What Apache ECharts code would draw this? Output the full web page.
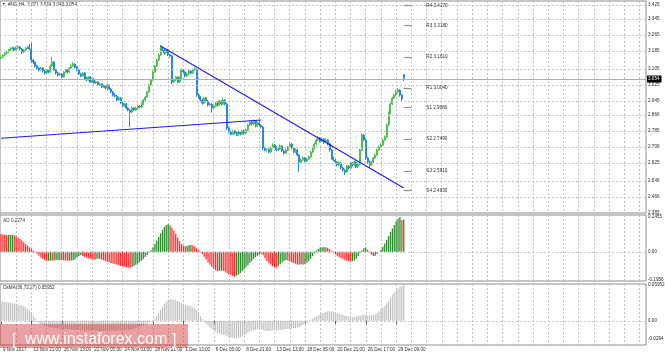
<!DOCTYPE html>
<html><head><meta charset="utf-8">
<script src="https://cdn.jsdelivr.net/npm/echarts@6/dist/echarts.min.js"></script>
<style>html,body{margin:0;padding:0;background:#fff}#c{width:665px;height:357px}</style>
</head><body><div id="c"></div>
<script>
// ---------- data ----------
const opens = [3.155,3.160,3.170,3.180,3.185,3.195,3.200,3.205,3.195,3.205,
3.210,3.200,3.185,3.195,3.205,3.210,3.200,3.145,3.135,3.115,
3.105,3.095,3.105,3.090,3.080,3.095,3.085,3.115,3.135,3.095,
3.080,3.070,3.075,3.060,3.085,3.095,3.085,3.105,3.115,3.125,
3.110,3.095,3.075,3.065,3.080,3.055,3.045,3.060,3.035,3.050,
3.030,3.035,3.020,3.025,3.010,3.015,3.005,3.020,3.000,2.985,
2.970,2.965,2.945,2.955,2.930,2.915,2.925,2.905,2.895,2.885,
2.905,2.895,2.905,2.915,2.910,2.925,2.945,2.960,2.985,3.020,
3.045,3.085,3.115,3.145,3.170,3.205,3.195,3.180,3.195,3.170,
3.165,3.035,3.045,3.060,3.035,3.055,3.095,3.085,3.065,3.075,
3.090,3.080,3.095,3.100,2.970,2.960,2.945,2.930,2.955,2.940,
2.920,2.925,2.905,2.915,2.930,2.920,2.940,2.925,2.945,2.925,
2.805,2.785,2.775,2.790,2.780,2.770,2.785,2.775,2.790,2.780,
2.795,2.820,2.835,2.825,2.840,2.815,2.830,2.820,2.810,2.705,
2.695,2.698,2.685,2.705,2.720,2.710,2.695,2.700,2.715,2.690,
2.680,2.695,2.710,2.725,2.705,2.685,2.695,2.670,2.635,2.645,
2.655,2.640,2.650,2.660,2.685,2.705,2.725,2.745,2.755,2.740,
2.750,2.735,2.745,2.725,2.695,2.655,2.645,2.635,2.620,2.630,
2.605,2.595,2.585,2.615,2.605,2.630,2.620,2.635,2.610,2.625,
2.695,2.770,2.745,2.655,2.635,2.620,2.635,2.655,2.670,2.695,
2.710,2.720,2.745,2.760,2.820,2.880,2.925,2.955,2.970,2.985,
2.995,2.970,3.071];
const closes = [3.160,3.170,3.180,3.185,3.195,3.200,3.205,3.195,3.205,3.210,
3.200,3.185,3.195,3.205,3.210,3.200,3.145,3.135,3.115,3.105,
3.095,3.105,3.090,3.080,3.095,3.085,3.115,3.135,3.095,3.080,
3.070,3.075,3.060,3.085,3.095,3.085,3.105,3.115,3.125,3.110,
3.095,3.075,3.065,3.080,3.055,3.045,3.060,3.035,3.050,3.030,
3.035,3.020,3.025,3.010,3.015,3.005,3.020,3.000,2.985,2.970,
2.965,2.945,2.955,2.930,2.915,2.925,2.905,2.895,2.885,2.905,
2.895,2.905,2.915,2.910,2.925,2.945,2.960,2.985,3.020,3.045,
3.085,3.115,3.145,3.170,3.205,3.195,3.180,3.195,3.170,3.165,
3.035,3.045,3.060,3.035,3.055,3.095,3.085,3.065,3.075,3.090,
3.080,3.095,3.100,2.970,2.960,2.945,2.930,2.955,2.940,2.920,
2.925,2.905,2.915,2.930,2.920,2.940,2.925,2.945,2.925,2.805,
2.785,2.775,2.790,2.780,2.770,2.785,2.775,2.790,2.780,2.795,
2.820,2.835,2.825,2.840,2.815,2.830,2.820,2.810,2.705,2.695,
2.698,2.685,2.705,2.720,2.710,2.695,2.700,2.715,2.690,2.680,
2.695,2.710,2.725,2.705,2.685,2.695,2.670,2.635,2.645,2.655,
2.640,2.650,2.660,2.685,2.705,2.725,2.745,2.755,2.740,2.750,
2.735,2.745,2.725,2.695,2.655,2.645,2.635,2.620,2.630,2.605,
2.595,2.585,2.615,2.605,2.630,2.620,2.635,2.610,2.625,2.695,
2.770,2.745,2.655,2.635,2.620,2.635,2.655,2.670,2.695,2.710,
2.720,2.745,2.760,2.820,2.880,2.925,2.955,2.970,2.985,2.995,
2.970,2.950,3.054];
const highs = [3.168,3.175,3.188,3.192,3.200,3.208,3.212,3.210,3.212,3.218,
3.215,3.205,3.200,3.212,3.218,3.225,3.230,3.150,3.140,3.122,
3.110,3.112,3.110,3.095,3.100,3.100,3.122,3.160,3.140,3.100,
3.085,3.082,3.080,3.090,3.102,3.100,3.110,3.122,3.135,3.130,
3.115,3.100,3.080,3.086,3.085,3.060,3.066,3.064,3.056,3.055,
3.042,3.040,3.032,3.030,3.022,3.020,3.026,3.024,3.005,2.990,
2.978,2.970,2.962,2.960,2.935,2.932,2.930,2.910,2.900,2.912,
2.910,2.912,2.922,2.920,2.932,2.950,2.966,2.990,3.026,3.052,
3.092,3.122,3.152,3.178,3.220,3.212,3.200,3.202,3.200,3.175,
3.170,3.052,3.066,3.064,3.062,3.105,3.100,3.090,3.082,3.096,
3.095,3.102,3.110,3.104,2.976,2.966,2.950,2.962,2.960,2.945,
2.932,2.930,2.922,2.936,2.935,2.946,2.945,2.955,2.950,2.930,
2.812,2.792,2.796,2.795,2.786,2.792,2.790,2.796,2.795,2.802,
2.826,2.845,2.840,2.848,2.845,2.836,2.846,2.826,2.815,2.712,
2.702,2.704,2.712,2.730,2.726,2.715,2.708,2.722,2.720,2.696,
2.702,2.716,2.732,2.730,2.710,2.702,2.700,2.675,2.652,2.662,
2.660,2.656,2.668,2.692,2.712,2.732,2.752,2.765,2.760,2.758,
2.755,2.752,2.750,2.730,2.700,2.662,2.650,2.640,2.638,2.635,
2.612,2.600,2.622,2.620,2.636,2.635,2.642,2.640,2.632,2.702,
2.780,2.775,2.750,2.660,2.642,2.642,2.662,2.678,2.702,2.718,
2.728,2.752,2.768,2.828,2.888,2.932,2.962,2.978,2.995,3.005,
3.000,2.975,3.074];
const lows = [3.150,3.155,3.165,3.175,3.180,3.190,3.195,3.188,3.190,3.200,
3.192,3.175,3.180,3.190,3.200,3.195,3.130,3.125,3.108,3.098,
3.088,3.090,3.082,3.072,3.075,3.078,3.080,3.110,3.090,3.072,
3.062,3.065,3.055,3.056,3.080,3.078,3.080,3.100,3.110,3.102,
3.088,3.070,3.058,3.060,3.050,3.038,3.040,3.030,3.030,3.024,
3.025,3.014,3.015,3.004,3.005,2.998,3.000,2.994,2.978,2.962,
2.958,2.938,2.940,2.924,2.908,2.910,2.898,2.888,2.810,2.878,
2.888,2.890,2.900,2.902,2.905,2.920,2.940,2.955,2.980,3.015,
3.040,3.080,3.110,3.140,3.165,3.188,3.172,3.175,3.165,3.158,
3.025,3.030,3.040,3.028,3.030,3.050,3.078,3.058,3.060,3.070,
3.074,3.075,3.090,2.962,2.952,2.938,2.922,2.925,2.932,2.912,
2.914,2.882,2.900,2.910,2.912,2.915,2.918,2.920,2.918,2.795,
2.778,2.768,2.770,2.772,2.764,2.765,2.768,2.770,2.772,2.775,
2.790,2.815,2.818,2.820,2.808,2.810,2.814,2.802,2.695,2.688,
2.686,2.678,2.680,2.700,2.704,2.688,2.690,2.695,2.684,2.672,
2.675,2.690,2.705,2.698,2.678,2.680,2.664,2.585,2.628,2.640,
2.634,2.635,2.645,2.655,2.680,2.700,2.720,2.740,2.732,2.735,
2.725,2.730,2.718,2.688,2.648,2.638,2.628,2.612,2.615,2.598,
2.588,2.570,2.580,2.598,2.600,2.612,2.615,2.604,2.605,2.620,
2.690,2.738,2.645,2.625,2.605,2.615,2.630,2.650,2.665,2.690,
2.705,2.715,2.740,2.755,2.815,2.875,2.920,2.948,2.962,2.978,
2.962,2.935,3.040];
const aoValues = [0.125,0.122,0.120,0.118,0.119,0.120,0.121,0.116,0.108,0.100,
0.090,0.080,0.068,0.055,0.044,0.032,0.022,0.010,-0.005,-0.016,
-0.028,-0.040,-0.050,-0.058,-0.065,-0.064,-0.062,-0.063,-0.061,-0.060,
-0.058,-0.059,-0.057,-0.059,-0.061,-0.063,-0.064,-0.062,-0.060,-0.055,
-0.040,-0.030,-0.025,-0.030,-0.036,-0.041,-0.046,-0.050,-0.054,-0.056,
-0.052,-0.049,-0.051,-0.055,-0.060,-0.065,-0.070,-0.074,-0.079,-0.083,
-0.088,-0.092,-0.096,-0.100,-0.104,-0.107,-0.110,-0.112,-0.113,-0.108,
-0.100,-0.092,-0.083,-0.073,-0.062,-0.050,-0.036,-0.022,-0.008,0.010,
0.030,0.055,0.080,0.105,0.130,0.155,0.175,0.190,0.197,0.188,
0.170,0.148,0.125,0.100,0.075,0.055,0.044,0.040,0.043,0.046,
0.048,0.047,0.038,0.025,0.012,0.002,-0.015,-0.035,-0.055,-0.075,
-0.092,-0.108,-0.120,-0.130,-0.138,-0.135,-0.132,-0.134,-0.140,-0.150,
-0.158,-0.165,-0.171,-0.177,-0.170,-0.160,-0.150,-0.138,-0.125,-0.110,
-0.095,-0.080,-0.065,-0.050,-0.038,-0.028,-0.020,-0.015,-0.025,-0.045,
-0.065,-0.080,-0.092,-0.102,-0.108,-0.112,-0.100,-0.088,-0.075,-0.065,
-0.058,-0.062,-0.068,-0.074,-0.080,-0.085,-0.089,-0.092,-0.088,-0.090,
-0.086,-0.078,-0.065,-0.050,-0.030,-0.010,0.008,0.020,0.030,0.031,
0.033,0.032,0.028,0.018,0.005,-0.008,-0.018,-0.028,-0.038,-0.046,
-0.053,-0.059,-0.063,-0.066,-0.068,-0.067,-0.062,-0.050,-0.030,-0.010,
0.010,0.025,0.030,0.015,-0.005,-0.020,-0.030,-0.028,-0.015,-0.002,
0.015,0.035,0.058,0.085,0.112,0.140,0.165,0.190,0.215,0.235,
0.2455,0.224,0.2274];
const osmaValues = [0.032,0.032,0.031,0.031,0.030,0.030,0.029,0.029,0.028,0.027,
0.026,0.025,0.024,0.022,0.020,0.017,0.013,0.009,0.004,-0.002,
-0.004,-0.006,-0.007,-0.008,-0.009,-0.010,-0.011,-0.011,-0.012,-0.012,
-0.013,-0.013,-0.013,-0.014,-0.014,-0.014,-0.014,-0.015,-0.015,-0.015,
-0.015,-0.015,-0.016,-0.016,-0.016,-0.016,-0.016,-0.016,-0.016,-0.016,
-0.016,-0.017,-0.017,-0.017,-0.017,-0.017,-0.017,-0.017,-0.017,-0.017,
-0.017,-0.016,-0.016,-0.016,-0.016,-0.015,-0.015,-0.015,-0.014,-0.014,
-0.013,-0.012,-0.011,-0.010,-0.009,-0.008,-0.006,-0.005,-0.003,-0.001,
0.002,0.004,0.008,0.013,0.018,0.023,0.028,0.032,0.035,0.036,
0.036,0.035,0.035,0.033,0.031,0.029,0.028,0.027,0.026,0.025,
0.024,0.023,0.021,0.018,0.013,0.008,0.003,-0.002,-0.005,-0.008,
-0.011,-0.014,-0.016,-0.018,-0.020,-0.021,-0.022,-0.023,-0.024,-0.025,
-0.027,-0.028,-0.029,-0.0294,-0.029,-0.028,-0.027,-0.026,-0.024,-0.022,
-0.020,-0.018,-0.017,-0.016,-0.015,-0.014,-0.014,-0.014,-0.015,-0.016,
-0.017,-0.017,-0.017,-0.016,-0.016,-0.016,-0.015,-0.015,-0.015,-0.015,
-0.014,-0.014,-0.013,-0.013,-0.012,-0.012,-0.011,-0.011,-0.009,-0.007,
-0.005,-0.003,-0.001,0.001,0.003,0.005,0.007,0.009,0.011,0.013,
0.014,0.015,0.016,0.016,0.016,0.015,0.014,0.013,0.012,0.011,
0.010,0.009,0.008,0.007,0.006,0.006,0.006,0.007,0.008,0.009,
0.010,0.010,0.010,0.009,0.009,0.009,0.010,0.011,0.013,0.016,
0.019,0.022,0.025,0.029,0.033,0.038,0.043,0.047,0.051,0.054,
0.057,0.058,0.05952];
const timeLabels = ['9 Nov 2017','13 Nov 21:00','16 Nov 13:00','21 Nov 05:00','24 Nov 01:00','28 Nov 21:00','1 Dec 13:00','6 Dec 05:00','8 Dec 21:00','13 Dec 13:00','18 Dec 05:00','20 Dec 21:00','26 Dec 17:00','29 Dec 09:00'];
const priceTicks = [3.425,3.345,3.265,3.185,3.105,3.025,2.945,2.865,2.785,2.705,2.625,2.545,2.465,2.385];
const priceTickLabels = ['3.425','3.345','3.265','3.185','3.105','3.025','2.945','2.866','2.785','2.706','2.625','2.546','2.466','2.385'];
const pivotNames = ['R4','R3','R2','R1','S1','S2','S3','S4'];
const pivotLevels = [3.4170,3.3180,3.1610,3.0040,2.9080,2.7490,2.5910,2.4930];
const lastPrice = 3.054;
const aoTicks = [0.2455, 0, -0.1956];
const aoTickLabels = ['0.2455','0.00','-0.1956'];
const osmaTicks = [0.05952, 0, -0.0294];
const osmaTickLabels = ['0.05952','0.00','-0.0294'];
const trendDown = [[84, 3.215],[211.6, 2.505]];
const trendUp = [[0, 2.754],[137.4, 2.845]];

// ---------- layout / style ----------
const SLOTS = 340, BARS_PER_LABEL = 16, GRID_STEP = 8;
const cats = []; for (let i = 0; i < SLOTS; i++) cats.push(String(i));
const FONT = '"Liberation Sans", Arial, sans-serif';
const FS = 4.6, TXT = '#2a2a2a';
const gridLine = {color:'#bcc4cc', type:[2,2], width:1};
const hiddenLine = {color:'rgba(255,255,255,0)', width:0.01};
const frame = '#8a8a8a';
const vIdx = (i) => i > 0 && i % GRID_STEP === 0;
const lIdx = (i) => i % BARS_PER_LABEL === 0 && i / BARS_PER_LABEL < timeLabels.length;

function xAx(g){
  return {type:'category', gridIndex:g, data:cats, boundaryGap:true,
    axisLine:{show:false},
    axisTick: g===2 ? {show:true, interval:lIdx, alignWithLabel:true, length:3, lineStyle:{color:'#555'}} : {show:false},
    axisLabel: g===2 ? {show:true, interval:lIdx, align:'left', margin:2, padding:[0,0,0,2], fontSize:FS, color:TXT, fontFamily:FONT,
      formatter:(v, idx) => timeLabels[idx / BARS_PER_LABEL] || ''} : {show:false},
    splitLine:{show:true, interval:vIdx, alignWithLabel:true, lineStyle:gridLine}};
}
function yAx(g, min, max){
  return {type:'value', gridIndex:g, min, max, position:'right', scale:true,
    axisLine:{show:false}, axisTick:{show:false}, axisLabel:{show:false}, splitLine:{show:false}};
}
function axisMarks(ticks, labels, drawLineFor){
  return ticks.map((v,i)=>({yAxis:v, name:labels[i],
    lineStyle: drawLineFor(v) ? gridLine : hiddenLine}));
}
const labelEnd = {show:true, position:'end', distance:2, fontSize:FS, color:TXT, fontFamily:FONT, formatter:p=>p.name};

const candleData = opens.map((o,i)=>[o, closes[i], lows[i], highs[i]]);
const aoData = aoValues.map((v,i)=>({value:v, itemStyle:{color: (i>0 && v>aoValues[i-1]) ? '#2e8b2e' : '#ff3030'}}));

const option = {
  animation:false,
  textStyle:{fontFamily:FONT},
  grid:[
    {left:0, top:1, width:646, height:212, show:true, borderColor:frame, borderWidth:1},
    {left:0, top:215, width:646, height:66, show:true, borderColor:frame, borderWidth:1},
    {left:0, top:284, width:646, height:61, show:true, borderColor:frame, borderWidth:1}
  ],
  xAxis:[xAx(0), xAx(1), xAx(2)],
  yAxis:[yAx(0, 2.380, 3.440), yAx(1, -0.2065, 0.2600), yAx(2, -0.040, 0.061)],
  series:[
    {type:'line', xAxisIndex:0, yAxisIndex:0, data:[], silent:true, z:1, clip:false,
     markLine:{symbol:'none', silent:true, animation:false, label:labelEnd, lineStyle:gridLine,
       data: priceTicks.map((v,i)=>({yAxis:v, name:priceTickLabels[i]}))}},
    {type:'candlestick', xAxisIndex:0, yAxisIndex:0, data:candleData, z:3, clip:false,
     barWidth:1.5,
     itemStyle:{color:'#55bf55', color0:'#2a8ad8', borderColor:'#55bf55', borderColor0:'#2a8ad8', borderWidth:1},
     markLine:{symbol:'none', silent:true, animation:false,
       data:[
         {yAxis:lastPrice, name:lastPrice.toFixed(3),
          lineStyle:{color:'#a8b0b8', type:'solid', width:1},
          label:{show:true, position:'end', distance:1, backgroundColor:'#000', color:'#fff', padding:[1,2,1,1], fontSize:FS, fontFamily:FONT, formatter:p=>p.name}},
         ...pivotLevels.map((p,i)=>[
           {coord:[211.5, p], name: pivotNames[i]+' '+p.toFixed(4),
            lineStyle:{color:'#8e8e8e', type:'solid', width:1.2},
            label:{show:true, position:'end', distance:15, fontSize:FS, color:TXT, fontFamily:FONT, formatter:q=>q.name}},
           {coord:[216.3, p]}]),
         [{coord:trendDown[0], lineStyle:{color:'#1a1aff', type:'solid', width:1.1}, label:{show:false}}, {coord:trendDown[1]}],
         [{coord:trendUp[0], lineStyle:{color:'#1a1aff', type:'solid', width:1.1}, label:{show:false}}, {coord:trendUp[1]}]
       ]}},
    {type:'bar', xAxisIndex:1, yAxisIndex:1, data:aoData, barWidth:1.3, z:3,
     markLine:{symbol:'none', silent:true, animation:false, label:labelEnd,
       data: axisMarks(aoTicks, aoTickLabels, v=>v===0)}},
    {type:'bar', xAxisIndex:2, yAxisIndex:2, data:osmaValues, barWidth:1.1, z:3,
     itemStyle:{color:'#bdbdbd'},
     markLine:{symbol:'none', silent:true, animation:false, label:labelEnd,
       data: axisMarks(osmaTicks, osmaTickLabels, v=>v===0)}}
  ],
  graphic:[
    {type:'text', left:2, top:2, style:{text:'\u25BC', fontSize:3.5, fill:'#222'}},
    {type:'text', left:8, top:2.5, style:{text:'#NG,H4  3.071 3.074 3.040 3.054', fontSize:FS, fill:TXT, fontFamily:FONT}},
    {type:'text', left:3, top:218, style:{text:'AO 0.2274', fontSize:FS, fill:TXT, fontFamily:FONT}},
    {type:'text', left:3, top:285.5, style:{text:'OsMA(36,72,27) 0.05952', fontSize:FS, fill:TXT, fontFamily:FONT}},
    {type:'rect', shape:{x:0, y:324, width:188, height:24}, style:{fill:'rgba(205,30,30,0.42)'}, z:100},
    {type:'text', x:12, y:341, style:{text:'[', fontSize:16, fill:'#fff', fontFamily:FONT, verticalAlign:'middle'}, z:101},
    {type:'text', x:25, y:340, style:{text:'www.instaforex.com', fontSize:16, fill:'#fff', fontFamily:FONT, verticalAlign:'middle'}, z:101},
    {type:'text', x:172, y:341, style:{text:']', fontSize:16, fill:'#fff', fontFamily:FONT, verticalAlign:'middle'}, z:101}
  ]
};
const chart = echarts.init(document.getElementById('c'), null, {renderer:'canvas'});
chart.setOption(option);
</script>
</body></html>
